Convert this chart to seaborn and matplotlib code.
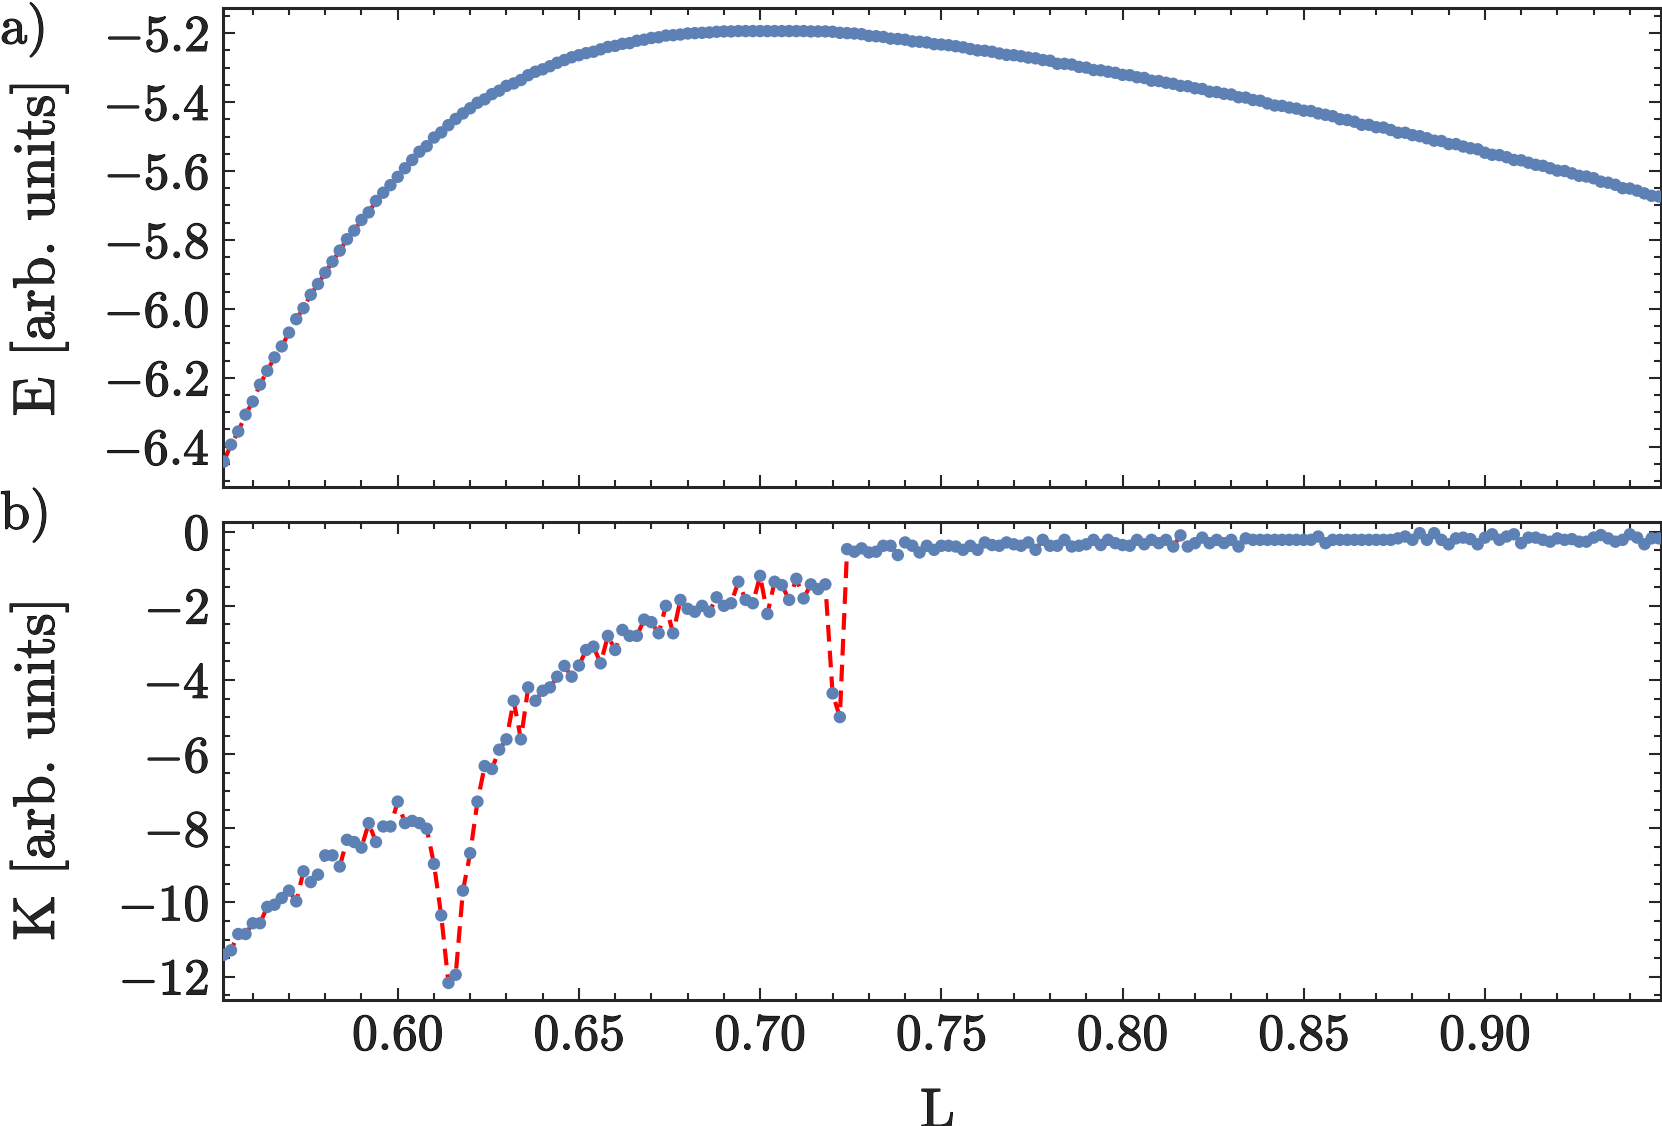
import numpy as np
import matplotlib
matplotlib.use("Agg")
import matplotlib.pyplot as plt
import matplotlib.patheffects as pe
import seaborn as sns
from matplotlib.ticker import MultipleLocator, FuncFormatter

# Data (L grid step 0.002)
L_start = 0.552
L_step = 0.002

E_vals = [
    -6.443, -6.394, -6.356, -6.307, -6.269, -6.220, -6.180, -6.141, -6.109, -6.069,
    -6.030, -5.998, -5.959, -5.928, -5.895, -5.863, -5.831, -5.798, -5.773, -5.742,
    -5.720, -5.687, -5.663, -5.641, -5.617, -5.592, -5.568, -5.544, -5.528, -5.503,
    -5.488, -5.467, -5.449, -5.433, -5.418, -5.402, -5.392, -5.377, -5.367, -5.353,
    -5.346, -5.336, -5.322, -5.312, -5.305, -5.296, -5.286, -5.278, -5.270, -5.264,
    -5.258, -5.254, -5.247, -5.240, -5.237, -5.231, -5.229, -5.222, -5.219, -5.214,
    -5.212, -5.207, -5.206, -5.204, -5.201, -5.200, -5.199, -5.198,
    -5.196, -5.195, -5.195, -5.194, -5.194, -5.194, -5.194, -5.194, -5.194, -5.194,
    -5.194, -5.194, -5.194, -5.195, -5.195, -5.195, -5.196,
    -5.199, -5.200, -5.201, -5.203, -5.208, -5.209, -5.211, -5.216, -5.217, -5.219,
    -5.224, -5.225, -5.227, -5.232, -5.233, -5.235, -5.238, -5.241, -5.246, -5.250,
    -5.251, -5.254,
    -5.259, -5.263, -5.264, -5.267, -5.271, -5.273, -5.278, -5.280, -5.289, -5.289,
    -5.291, -5.298, -5.300, -5.307, -5.308, -5.312, -5.315, -5.321, -5.322, -5.328,
    -5.330, -5.338, -5.339, -5.344, -5.347, -5.353, -5.354, -5.360, -5.362, -5.370,
    -5.371, -5.376, -5.378, -5.386, -5.387, -5.394, -5.396, -5.404, -5.410, -5.411,
    -5.416, -5.419, -5.425, -5.426, -5.433, -5.437, -5.441,
    -5.450, -5.452, -5.457, -5.466, -5.466, -5.473, -5.474, -5.481, -5.489, -5.489,
    -5.496, -5.499, -5.505, -5.512, -5.513, -5.522, -5.522, -5.529, -5.534, -5.537,
    -5.547, -5.553, -5.554, -5.560, -5.568, -5.569, -5.576, -5.582, -5.585, -5.592,
    -5.599, -5.600, -5.607, -5.614, -5.616, -5.621, -5.631, -5.634, -5.640, -5.650,
    -5.651, -5.657, -5.665, -5.672, -5.674,
]

K_vals = [
    -11.41, -11.29, -10.85, -10.85, -10.56, -10.56, -10.12, -10.06, -9.88, -9.68,
    -9.97, -9.16, -9.45, -9.25, -8.73, -8.73, -9.03, -8.31, -8.37, -8.52,
    -7.86, -8.37, -7.95, -7.95, -7.28, -7.86, -7.80, -7.86, -8.01, -8.96,
    -10.35, -12.17, -11.95, -9.68, -8.67, -7.28, -6.32, -6.40, -5.88, -5.60,
    -4.56, -5.60, -4.20, -4.56, -4.29, -4.20, -3.91, -3.62, -3.91, -3.61,
    -3.19, -3.10, -3.55, -2.81, -3.19, -2.65, -2.81, -2.81, -2.37, -2.44,
    -2.74, -2.00, -2.74, -1.84, -2.08, -2.16, -2.00, -2.16, -1.77, -2.00,
    -1.93, -1.35, -1.84, -1.93, -1.19, -2.22, -1.35, -1.44, -1.84, -1.27,
    -1.80, -1.42, -1.55, -1.42, -4.36, -5.00,
    -0.47, -0.54, -0.45, -0.56, -0.54, -0.38, -0.38, -0.63, -0.29, -0.38,
    -0.56, -0.38, -0.49, -0.38, -0.38, -0.40, -0.49, -0.38, -0.49, -0.29,
    -0.36, -0.38, -0.29, -0.34, -0.38, -0.29, -0.49, -0.22, -0.38, -0.38,
    -0.22, -0.40, -0.38, -0.34, -0.22, -0.36, -0.22, -0.31, -0.36, -0.38,
    -0.22, -0.34, -0.22, -0.31, -0.22, -0.40, -0.10, -0.40, -0.31, -0.16,
    -0.31, -0.22, -0.31, -0.22, -0.40, -0.18, -0.22,
    -0.22, -0.22, -0.22, -0.22, -0.22, -0.22, -0.22, -0.22, -0.13, -0.31,
    -0.22, -0.22, -0.22, -0.22, -0.22, -0.22, -0.22, -0.22, -0.22,
    -0.18, -0.13, -0.22, -0.04, -0.22, -0.04, -0.22, -0.34, -0.18, -0.16,
    -0.20, -0.34, -0.16, -0.07, -0.22, -0.13, -0.07, -0.31, -0.16, -0.16,
    -0.22, -0.27, -0.18, -0.22, -0.20, -0.27, -0.27, -0.16, -0.09, -0.18,
    -0.27, -0.22, -0.07, -0.16, -0.34, -0.18, -0.18,
]

L_vals = np.round(L_start + L_step * np.arange(len(E_vals)), 3)

dot_color = "#5E81B5"
line_color = "#FF0000"

sns.set_style("ticks")
plt.rcParams["mathtext.fontset"] = "cm"
plt.rcParams["font.family"] = ["serif"]
plt.rcParams["font.serif"] = ["cmr10", "DejaVu Serif"]
plt.rcParams["axes.unicode_minus"] = False
plt.rcParams["axes.formatter.use_mathtext"] = True

fig = plt.figure(figsize=(16.62, 11.26), dpi=100)
ax1 = fig.add_axes([0.1342, 0.5675, 0.8650, 0.4254])
ax2 = fig.add_axes([0.1342, 0.1119, 0.8650, 0.4248])

fs = 37
bold = [pe.withStroke(linewidth=0.8, foreground="black")]


def fmt1(v, pos):
    return r"$%.1f$" % v


def fmt0(v, pos):
    return r"$%d$" % int(round(v))


for ax, yv in [(ax1, E_vals), (ax2, K_vals[:len(L_vals)])]:
    sns.lineplot(x=L_vals, y=yv, ax=ax, color=line_color, linewidth=3.0,
                 linestyle="--", zorder=2)
    ax.lines[-1].set_dashes([4.0, 2.2])
    sns.scatterplot(x=L_vals, y=yv, ax=ax, color=dot_color, s=80,
                    edgecolor="none", linewidth=0, zorder=3)
    ax.set_xlim(0.5518, 0.9485)
    ax.xaxis.set_major_locator(MultipleLocator(0.05))
    ax.xaxis.set_minor_locator(MultipleLocator(0.01))
    ax.tick_params(which="both", direction="in", top=True, right=True,
                   width=1.5, labelsize=fs, pad=10)
    ax.tick_params(which="major", length=8.5)
    ax.tick_params(which="minor", length=5)
    for sp in ax.spines.values():
        sp.set_linewidth(2.2)
        sp.set_visible(True)

ax1.set_ylim(-6.517, -5.127)
ax1.yaxis.set_major_locator(MultipleLocator(0.2))
ax1.yaxis.set_minor_locator(MultipleLocator(0.05))
ax1.yaxis.set_major_formatter(FuncFormatter(fmt1))
ax1.tick_params(axis="x", labelbottom=False)
ax1.set_ylabel("E [arb. units]", fontsize=42)
ax1.yaxis.set_label_coords(-0.108, 0.5)

ax2.set_ylim(-12.63, 0.27)
ax2.yaxis.set_major_locator(MultipleLocator(2))
ax2.yaxis.set_minor_locator(MultipleLocator(0.5))
ax2.yaxis.set_major_formatter(FuncFormatter(fmt0))
ax2.xaxis.set_major_formatter(FuncFormatter(lambda v, p: r"$%.2f$" % v))
ax2.set_ylabel("K [arb. units]", fontsize=42)
ax2.yaxis.set_label_coords(-0.108, 0.483)
ax2.set_xlabel("L", fontsize=40)
ax2.xaxis.set_label_coords(0.497, -0.185)

t1 = fig.text(0.0, 0.997, "a)", fontsize=39, ha="left", va="top")
t2 = fig.text(0.0, 0.566, "b)", fontsize=39, ha="left", va="top")

for ax in (ax1, ax2):
    for lab in ax.get_xticklabels() + ax.get_yticklabels():
        lab.set_path_effects(bold)
    ax.yaxis.label.set_path_effects(bold)
    ax.xaxis.label.set_path_effects(bold)
for t in (t1, t2):
    t.set_path_effects(bold)

fig.savefig("out.png", dpi=100)
